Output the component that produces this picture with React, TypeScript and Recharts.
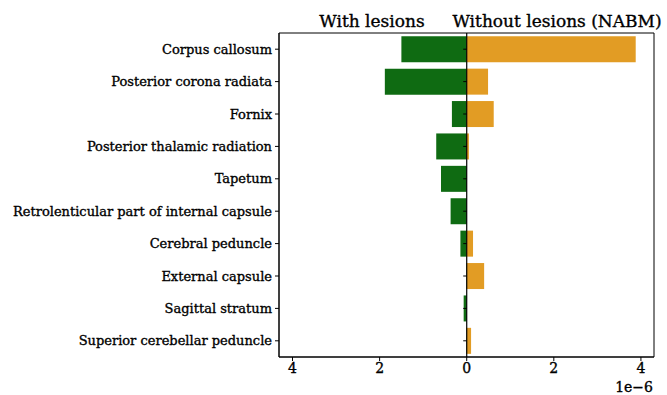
import React from "react";
import { BarChart, Bar, XAxis, YAxis, ReferenceLine, ReferenceArea } from "recharts";

const regions = [
  "Corpus callosum",
  "Posterior corona radiata",
  "Fornix",
  "Posterior thalamic radiation",
  "Tapetum",
  "Retrolenticular part of internal capsule",
  "Cerebral peduncle",
  "External capsule",
  "Sagittal stratum",
  "Superior cerebellar peduncle",
];

// values in units of 1e-6
const withLesions = [1.5, 1.88, 0.34, 0.7, 0.59, 0.37, 0.145, 0.01, 0.07, 0.01];
const withoutLesions = [3.88, 0.49, 0.62, 0.05, 0.0, 0.0, 0.145, 0.4, 0.0, 0.1];

const xTicks = [-4, -2, 0, 2, 4];
const xDomain = [-4.31, 4.3];

const data = regions.map((name, i) => ({
  name,
  lesion: -withLesions[i],
  nabm: withoutLesions[i],
}));

const font = "'DejaVu Serif', serif";
const green = "#0f6b12";
const orange = "#e29c24";
// slight stroke to mimic the heavier face of the original
const heavy = { stroke: "#000", strokeWidth: 0.35 };

export default function App() {
  return (
    <div style={{ position: "absolute", left: 0, top: 0, width: 667, height: 395, background: "#fff" }}>
      <BarChart
        width={667}
        height={395}
        data={data}
        layout="vertical"
        stackOffset="sign"
        margin={{ top: 33, right: 13, left: 0, bottom: 0 }}
      >
        <XAxis
          type="number"
          domain={xDomain}
          ticks={xTicks}
          allowDataOverflow
          tickFormatter={(v: number) => String(Math.abs(v))}
          tick={{ fontSize: 14, fill: "#000", fontFamily: font, ...heavy }}
          axisLine={{ stroke: "#000" }}
          tickLine={{ stroke: "#000" }}
          tickSize={4}
          height={38}
        />
        <YAxis
          type="category"
          dataKey="name"
          width={279}
          interval={0}
          tick={{ fontSize: 13, fill: "#000", fontFamily: font, ...heavy }}
          axisLine={{ stroke: "#000" }}
          tickLine={{ stroke: "#000" }}
          tickSize={4}
          tickMargin={3}
        />
        <Bar dataKey="lesion" stackId="a" fill={green} isAnimationActive={false} />
        <Bar dataKey="nabm" stackId="a" fill={orange} isAnimationActive={false} />
        <ReferenceArea x1={xDomain[0]} x2={xDomain[1]} fill="none" stroke="#000" strokeWidth={1} fillOpacity={0} />
        <ReferenceLine x={0} stroke="#000" strokeWidth={1.2} />
        {regions.map((r) => (
          <ReferenceLine
            key={r}
            segment={[
              { x: -0.08, y: r },
              { x: 0, y: r },
            ]}
            stroke="#000"
          />
        ))}
      </BarChart>
      <svg width={667} height={395} style={{ position: "absolute", left: 0, top: 0, pointerEvents: "none" }}>
        <text x={372} y={27} textAnchor="middle" fontSize={17} fontFamily={font} fill="#000" {...heavy}>
          With lesions
        </text>
        <text x={557} y={27} textAnchor="middle" fontSize={17} fontFamily={font} fill="#000" {...heavy}>
          Without lesions (NABM)
        </text>
        <text x={653} y={392} textAnchor="end" fontSize={14} fontFamily={font} fill="#000" {...heavy}>
          1e−6
        </text>
      </svg>
    </div>
  );
}
